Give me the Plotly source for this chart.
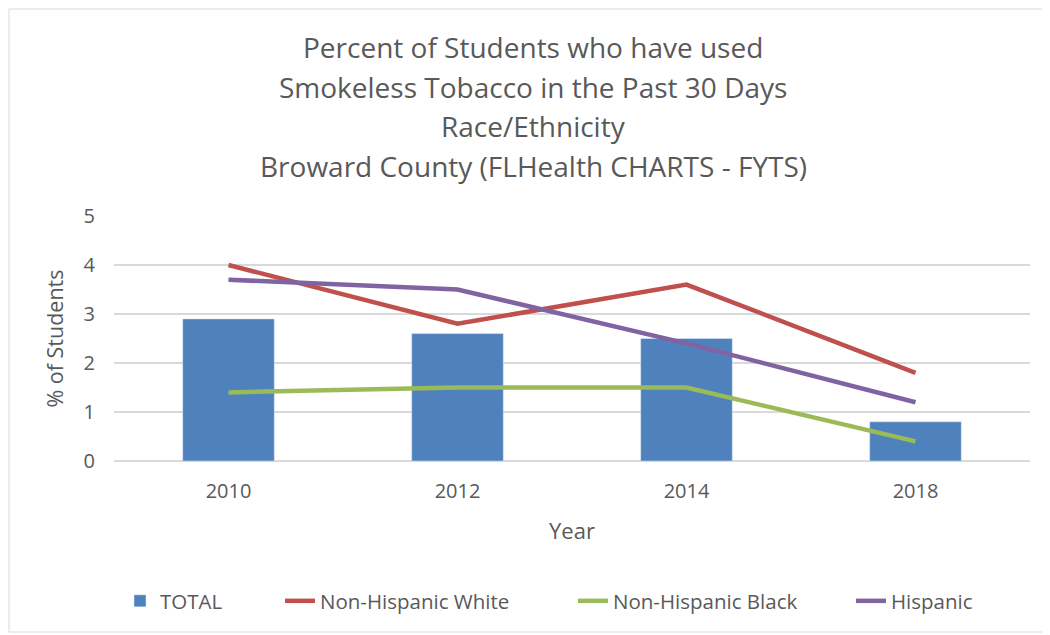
import plotly.graph_objects as go

years = ['2010', '2012', '2014', '2018']
total = [2.9, 2.6, 2.5, 0.8]
nh_white = [4.0, 2.8, 3.6, 1.8]
nh_black = [1.4, 1.5, 1.5, 0.4]
hispanic = [3.7, 3.5, 2.4, 1.2]

title_lines = ['Percent of Students who have used',
               'Smokeless Tobacco in the Past 30 Days',
               'Race/Ethnicity',
               'Broward County (FLHealth CHARTS - FYTS)']

font = 'Open Sans'
grey = '#595959'

# page body adds 8px, so work in screen pixels and shift
off = 8
W, H = 1050 - off, 635 - off
left, right, top, bottom = 114 - off, 1030 - off, 216 - off, 461 - off
pw, ph = right - left, bottom - top


def px_x(x):
    return (x - off - left) / pw


def px_y(y):
    return (bottom - (y - off)) / ph


data = [
    go.Bar(x=years, y=total, name='TOTAL', marker_color='#4F81BD', width=0.4,
           legend='legend'),
    go.Scatter(x=years, y=nh_white, name='Non-Hispanic White', mode='lines',
               line=dict(color='#C0504D', width=4.5), legend='legend2'),
    go.Scatter(x=years, y=nh_black, name='Non-Hispanic Black', mode='lines',
               line=dict(color='#9BBB59', width=4.5), legend='legend3'),
    go.Scatter(x=years, y=hispanic, name='Hispanic', mode='lines',
               line=dict(color='#8064A2', width=4.5), legend='legend4'),
]


def leg(x):
    return dict(orientation='h', x=px_x(x), y=px_y(601), yanchor='middle',
                xanchor='left', font=dict(size=20.5, color=grey),
                bgcolor='rgba(0,0,0,0)')


annotations = []
for i, line in enumerate(title_lines):
    annotations.append(dict(text=line, x=px_x(533), y=px_y(47 + i * 39.5),
                            xref='paper', yref='paper', showarrow=False,
                            xanchor='center', yanchor='middle',
                            font=dict(family=font, size=28, color=grey)))

layout = go.Layout(
    width=W, height=H,
    margin=dict(l=left, r=W - right, t=top, b=H - bottom),
    paper_bgcolor='white', plot_bgcolor='white',
    font=dict(family=font, color=grey),
    showlegend=True,
    legend=leg(120), legend2=leg(280), legend3=leg(573), legend4=leg(851),
    xaxis=dict(type='category', showgrid=False, showline=False, ticks='',
               ticklabelstandoff=16,
               tickfont=dict(size=20, color=grey),
               title=dict(text='Year', font=dict(size=22, color=grey),
                          standoff=20)),
    yaxis=dict(range=[0, 5], dtick=1, gridcolor='#D9D9D9', gridwidth=1.5,
               zeroline=True, zerolinecolor='#D9D9D9', zerolinewidth=1.5,
               showline=False, ticks='', ticklabelstandoff=18,
               tickfont=dict(size=20, color=grey),
               title=dict(text='% of Students', font=dict(size=21.5, color=grey),
                          standoff=14)),
    annotations=annotations,
    shapes=[dict(type='rect', xref='paper', yref='paper',
                 x0=px_x(9), x1=px_x(1045), y0=px_y(632), y1=px_y(9),
                 line=dict(color='#D9D9D9', width=1), layer='below')],
)

fig = go.Figure(data=data, layout=layout)
fig.write_html('out.html')
